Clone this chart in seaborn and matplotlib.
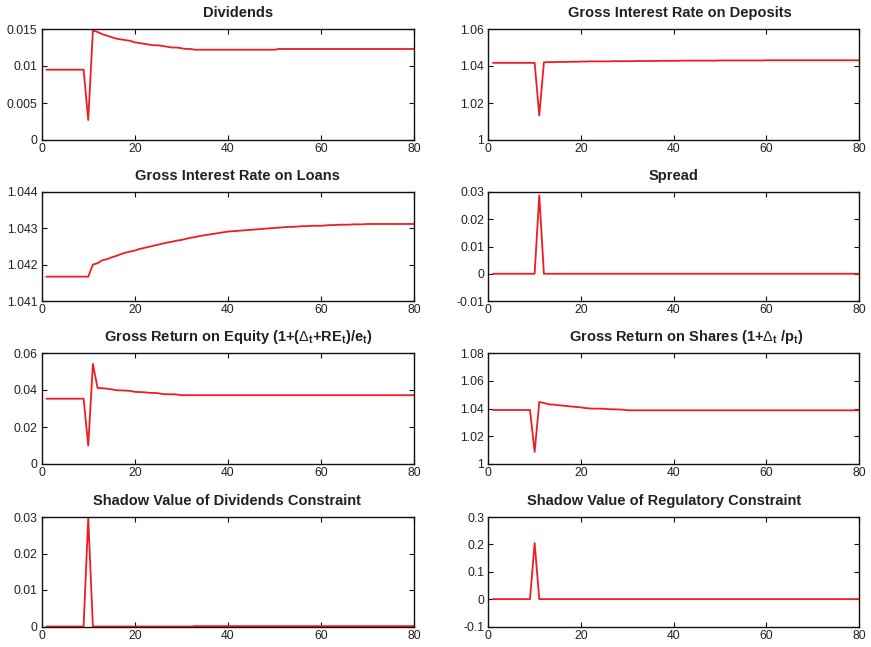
import numpy as np
import pandas as pd
import matplotlib
matplotlib.use("Agg")
import matplotlib.pyplot as plt
from matplotlib.ticker import FuncFormatter, FixedLocator
import seaborn as sns

# Impulse responses, periods 1..80
periods = list(range(1, 81))

dividends = ([0.0095] * 9 + [0.0027] +
             [0.0148, 0.0146, 0.0143, 0.0141, 0.0139, 0.0137, 0.0136, 0.0135, 0.0134, 0.0132,
              0.0131, 0.0130, 0.0129, 0.0128, 0.0128, 0.0127, 0.0126, 0.0125, 0.0125, 0.0124,
              0.0123, 0.0123] +
             [0.0122] * 18 + [0.0123] * 30)

loan_rate = ([1.04167] * 10 +
             [1.04200, 1.04204, 1.04212, 1.04215, 1.04220, 1.04224, 1.04229, 1.04233, 1.04236, 1.04239,
              1.04243, 1.04246, 1.04249, 1.04252, 1.04255, 1.04258, 1.04261, 1.04263, 1.04266, 1.04268,
              1.04271, 1.04274, 1.04276, 1.04279, 1.04281, 1.04283, 1.04285, 1.04287, 1.04289, 1.04291,
              1.04292, 1.04293, 1.04294, 1.04295, 1.04296, 1.04297, 1.04298, 1.04299, 1.04300, 1.04301,
              1.04302, 1.04303, 1.04304, 1.04304, 1.04305, 1.04306, 1.04306, 1.04307, 1.04307, 1.04307,
              1.04308, 1.04309, 1.04309, 1.04310, 1.04310, 1.04310, 1.04311, 1.04311, 1.04311] +
             [1.04312] * 11)

deposit_rate = ([1.0417] * 10 + [1.0132] +
                [1.0420, 1.0421, 1.0421, 1.0422, 1.0422, 1.0422, 1.0423, 1.0423, 1.0424, 1.0424] +
                [1.0425] * 5 + [1.0426] * 5 + [1.0427] * 5 + [1.0428] * 5 + [1.0429] * 8 +
                [1.0430] * 10 + [1.0431] * 21)

spread = [0.0] * 10 + [0.0288] + [0.0] * 69

equity_return = ([0.0353] * 9 + [0.0099] +
                 [0.0541, 0.0411, 0.0410, 0.0407, 0.0404, 0.0399, 0.0398, 0.0397, 0.0395, 0.0390,
                  0.0389, 0.0388, 0.0385, 0.0384, 0.0383, 0.0378, 0.0377, 0.0377, 0.0376] +
                 [0.0372] * 51)

share_return = ([1.0389] * 9 + [1.0087] +
                [1.0447, 1.0440, 1.0430, 1.0428, 1.0424, 1.0421, 1.0418, 1.0414, 1.0411, 1.0408,
                 1.0403, 1.0400, 1.0399, 1.0399, 1.0398, 1.0395, 1.0394, 1.0393, 1.0392] +
                [1.0387] * 51)

shadow_dividends = [0.0] * 9 + [0.0297] + [0.0] * 22 + [0.0001] * 48

shadow_regulatory = [0.0] * 9 + [0.205] + [0.0] * 70

# title, series, y-limits, y-ticks, horizontal title shift (px)
panels = [
    ("Dividends", dividends, (0, 0.015), [0, 0.005, 0.01, 0.015], 10),
    ("Gross Interest Rate on Deposits", deposit_rate, (1, 1.06), [1, 1.02, 1.04, 1.06], 6),
    ("Gross Interest Rate on Loans", loan_rate, (1.041, 1.044), [1.041, 1.042, 1.043, 1.044], 9.5),
    ("Spread", spread, (-0.01, 0.03), [-0.01, 0, 0.01, 0.02, 0.03], 0),
    (r"Gross Return on Equity (1+(${\mathrm{\Delta}}_{t}$+RE$_{t}$)/e$_{t}$)", equity_return,
     (0, 0.06), [0, 0.02, 0.04, 0.06], 10),
    (r"Gross Return on Shares (1+${\mathrm{\Delta}}_{t}$ /p$_{t}$)", share_return,
     (1, 1.08), [1, 1.02, 1.04, 1.06, 1.08], 13),
    ("Shadow Value of Dividends Constraint", shadow_dividends, (0, 0.03), [0, 0.01, 0.02, 0.03], -1),
    ("Shadow Value of Regulatory Constraint", shadow_regulatory, (-0.1, 0.3),
     [-0.1, 0, 0.1, 0.2, 0.3], -10),
]

sns.set_theme(style="ticks")
plt.rcParams["font.family"] = ["Liberation Sans", "DejaVu Sans"]
plt.rcParams["mathtext.fontset"] = "custom"
plt.rcParams["mathtext.rm"] = "Liberation Sans"
plt.rcParams["mathtext.bf"] = "Liberation Sans:bold"
plt.rcParams["mathtext.it"] = "Liberation Sans:bold"
plt.rcParams["mathtext.default"] = "bf"
plt.rcParams["axes.unicode_minus"] = False

text_color = "#222222"
line_color = "#ee1d23"

fig = plt.figure(figsize=(8.71, 6.47), dpi=100)

col_left = [41.7 / 871, 488.3 / 871]
col_width = [372.3 / 871, 370.7 / 871]
row_top_px = [29, 192, 353, 517]
row_bot_px = [140, 301, 464, 626.5]


def tick_text(v, pos):
    return "%g" % v


for i, (title, values, ylim, yticks, shift) in enumerate(panels):
    r, c = divmod(i, 2)
    bottom = 1 - row_bot_px[r] / 647
    height = (row_bot_px[r] - row_top_px[r]) / 647
    ax = fig.add_axes([col_left[c], bottom, col_width[c], height])
    df = pd.DataFrame({"t": periods, "v": values})
    sns.lineplot(data=df, x="t", y="v", ax=ax, color=line_color, linewidth=1.3)
    ax.set_xlim(0, 80)
    ax.set_ylim(*ylim)
    ax.xaxis.set_major_locator(FixedLocator([0, 20, 40, 60, 80]))
    ax.yaxis.set_major_locator(FixedLocator(yticks))
    ax.xaxis.set_major_formatter(FuncFormatter(tick_text))
    ax.yaxis.set_major_formatter(FuncFormatter(tick_text))
    ax.set_xlabel("")
    ax.set_ylabel("")
    for s in ax.spines.values():
        s.set_visible(True)
        s.set_linewidth(1.0)
        s.set_color("#111111")
    ax.tick_params(direction="in", length=3.5, width=0.8, top=True, right=True,
                   labelsize=8.8, colors="#111111", labelcolor=text_color)
    ax.tick_params(axis="y", pad=3.0)
    ax.tick_params(axis="x", pad=2.5)
    ax.set_title(title, fontsize=10.5, fontweight="bold", color=text_color, pad=8.5,
                 x=0.5 + shift / (col_width[c] * 871))

fig.savefig("out.png", dpi=100, facecolor="white")
